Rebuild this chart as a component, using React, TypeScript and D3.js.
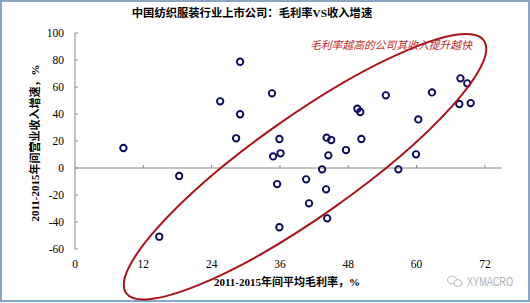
import React from "react";
import * as d3 from "d3";

const W = 530;
const H = 303;

const title = "中国纺织服装行业上市公司：毛利率VS收入增速";
const xTitle = "2011-2015年间平均毛利率，%";
const yTitle = "2011-2015年间营业收入增速，%";
const note = "毛利率越高的公司其收入提升越快";
const watermark = "XYMACRO";

const xTicks = [0, 12, 24, 36, 48, 60, 72];
const yTicks = [-60, -40, -20, 0, 20, 40, 60, 80, 100];

// average gross margin (%), 2011-2015
const grossMargin = [
  8.5, 18.3, 14.8, 25.5, 29.0, 29.0, 28.3, 34.6, 34.8, 35.9, 36.1, 35.5,
  35.9, 40.6, 41.1, 43.4, 44.1, 44.3, 44.2, 45.0, 44.5, 47.6, 49.6, 50.1,
  50.3, 54.6, 56.8, 59.9, 60.3, 62.7, 67.7, 68.9, 67.5, 69.5,
];
// revenue growth (%), 2011-2015
const revenueGrowth = [
  14.8, -5.9, -50.9, 49.4, 78.7, 39.8, 22.0, 55.3, 8.6, 21.5, 10.9, -11.9,
  -43.9, -8.4, -26.2, -1.0, -15.8, -37.3, 22.5, 20.7, 9.4, 13.3, 43.9, 41.5,
  21.5, 53.8, -1.0, 10.1, 36.0, 56.0, 66.4, 62.7, 47.4, 48.1,
];

// highlight ellipse (center in data units)
const ellipseCenter = [40.4, 0.9];

export default function App() {
  const x = d3.scaleLinear().domain([0, 75]).range([75, 502]);
  const y = d3.scaleLinear().domain([-60, 100]).range([249, 33]);
  const serif = "'Liberation Serif', 'Times New Roman', 'Noto Sans CJK SC', serif";
  const cx = x(ellipseCenter[0]);
  const cy = y(ellipseCenter[1]);

  return (
    <svg
      width={W}
      height={H}
      style={{ position: "absolute", left: 0, top: 0, background: "#fff" }}
    >
      <rect x={1} y={1} width={W - 2} height={H - 3} fill="#fff" stroke="#8aa6c4" strokeWidth={2} />
      <text
        x={252}
        y={17}
        textAnchor="middle"
        fontFamily={serif}
        fontWeight="bold"
        fontSize={11.3}
        fill="#000"
      >
        {title}
      </text>

      {/* y axis */}
      <line x1={x(0)} x2={x(0)} y1={y(100)} y2={y(-60)} stroke="#888" strokeWidth={1} />
      {yTicks.map((t) => (
        <g key={"y" + t}>
          <line x1={x(0)} x2={x(0) + 3} y1={y(t)} y2={y(t)} stroke="#888" />
          <text
            x={x(0) - 11}
            y={y(t) + 4}
            textAnchor="end"
            fontFamily={serif}
            fontSize={11.5}
            fill="#000"
          >
            {t}
          </text>
        </g>
      ))}

      {/* x axis at zero */}
      <line x1={x(0)} x2={x(75)} y1={y(0)} y2={y(0)} stroke="#888" strokeWidth={1} />
      {xTicks.map((t) => (
        <g key={"x" + t}>
          {t > 0 && <line x1={x(t)} x2={x(t)} y1={y(0)} y2={y(0) - 3} stroke="#888" />}
          <text
            x={x(t)}
            y={268}
            textAnchor="middle"
            fontFamily={serif}
            fontSize={11.5}
            fill="#000"
          >
            {t}
          </text>
        </g>
      ))}

      <text
        x={287}
        y={286}
        textAnchor="middle"
        fontFamily={serif}
        fontWeight="bold"
        fontSize={11}
        fill="#000"
      >
        {xTitle}
      </text>
      <text
        transform={`translate(39,143) rotate(-90)`}
        textAnchor="middle"
        fontFamily={serif}
        fontWeight="bold"
        fontSize={11}
        fill="#000"
      >
        {yTitle}
      </text>

      {/* points */}
      {grossMargin.map((g, i) => (
        <circle
          key={i}
          cx={x(g)}
          cy={y(revenueGrowth[i])}
          r={3.2}
          fill="none"
          stroke="#0a0a5c"
          strokeWidth={1.9}
        />
      ))}

      {/* ellipse annotation */}
      <ellipse
        cx={cx}
        cy={cy}
        rx={219}
        ry={50}
        transform={`rotate(-35.2 ${cx} ${cy})`}
        fill="none"
        stroke="#a8121a"
        strokeWidth={2}
      />
      <text
        x={391}
        y={49}
        textAnchor="middle"
        fontFamily="'Noto Sans CJK SC', sans-serif"
        fontStyle="italic"
        fontSize={10.8}
        fill="#c0282d"
      >
        {note}
      </text>

      {/* watermark */}
      <g stroke="#b8b8b8" fill="none" strokeWidth={1}>
        <ellipse cx={452} cy={280} rx={4.5} ry={4} />
        <ellipse cx={458} cy={283} rx={4} ry={3.4} fill="#fff" />
      </g>
      <text
        x={467}
        y={286}
        fontFamily="'Liberation Sans', sans-serif"
        fontSize={12}
        fill="#b0b0b0"
        textLength={46}
        lengthAdjust="spacingAndGlyphs"
      >
        {watermark}
      </text>
    </svg>
  );
}
